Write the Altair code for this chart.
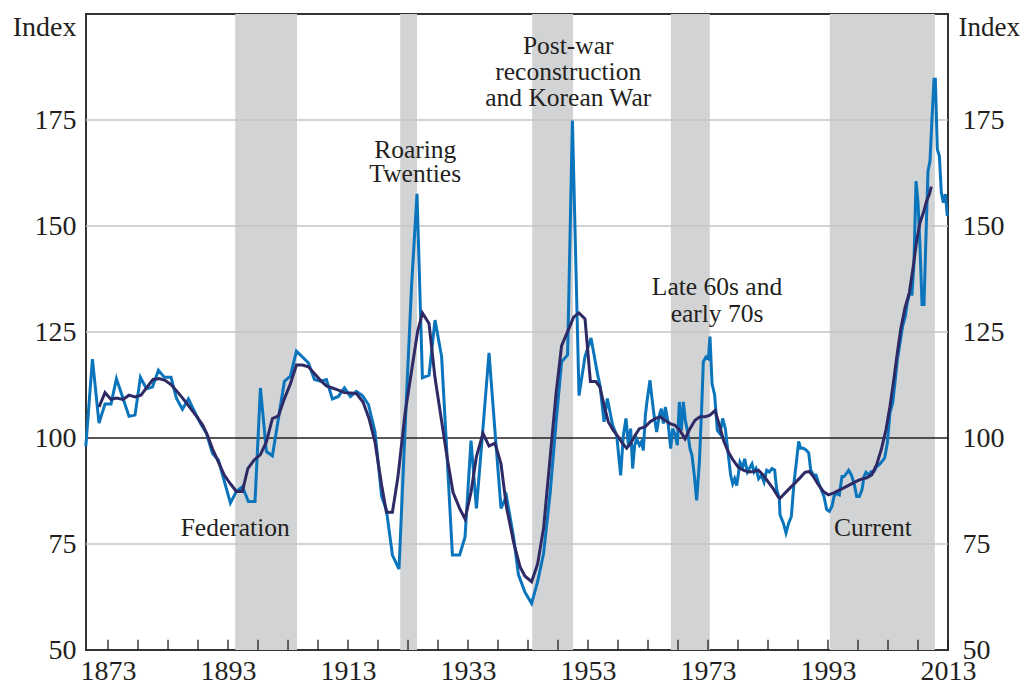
import altair as alt
import pandas as pd

# ---------------- data ----------------
blue_years = [1869.3, 1870.4, 1871.5, 1872.5, 1873.5, 1874.4, 1875.4, 1876.5, 1877.5, 1878.4,
              1879.4, 1880.4, 1881.4, 1882.4, 1883.5, 1884.4, 1885.4, 1886.4, 1887.4, 1888.4,
              1889.4, 1890.4, 1891.4, 1892.4, 1893.4, 1894.4, 1895.4, 1896.4, 1897.5, 1898.4,
              1899.4, 1900.4, 1901.4, 1902.4, 1903.4, 1904.4, 1905.4, 1906.4, 1907.4, 1908.4,
              1909.4, 1910.4, 1911.4, 1912.4, 1913.4, 1914.4, 1915.4, 1916.4, 1917.5, 1918.6,
              1919.4, 1920.4, 1921.5, 1922.7, 1923.6, 1924.5, 1925.4, 1926.5, 1927.5, 1928.6,
              1929.5, 1930.4, 1931.6, 1932.5, 1933.5, 1934.4, 1935.4, 1936.5, 1937.5, 1938.5,
              1939.4, 1940.6, 1941.4, 1942.5, 1943.6, 1944.6, 1945.6, 1946.7, 1947.7, 1948.6,
              1949.6, 1950.4, 1951.5, 1952.5, 1953.5, 1954.6,
              1955.0, 1955.67, 1956.22, 1957.11, 1957.78, 1958.44, 1958.89, 1959.33, 1959.72, 1960.11,
              1960.44, 1960.78, 1961.11, 1961.56, 1961.89, 1962.22, 1962.56, 1962.89, 1963.33, 1963.67,
              1964.0, 1964.44, 1964.89, 1965.22, 1965.56, 1965.89, 1966.33, 1966.78, 1967.11, 1967.56,
              1967.89, 1968.22, 1968.56, 1968.89, 1969.22, 1969.56, 1970.0, 1970.33, 1970.72, 1971.11,
              1971.56, 1971.94, 1972.22, 1972.67, 1973.06, 1973.33, 1973.67, 1974.11, 1974.56, 1975.0,
              1975.44, 1975.89, 1976.33, 1976.78, 1977.11, 1977.44, 1977.78, 1978.11, 1978.33, 1978.78,
              1979.11, 1979.56, 1980.0, 1980.33, 1980.67, 1981.0, 1981.44, 1981.89, 1982.33, 1982.78,
              1983.22, 1983.67, 1984.11, 1984.44, 1984.89,
              1985.0, 1985.56, 1986.0, 1986.44, 1986.89, 1987.33, 1987.78, 1988.11, 1988.44, 1988.89,
              1989.33, 1989.78, 1990.11, 1990.56, 1991.0, 1991.44, 1991.89, 1992.33, 1992.78, 1993.22,
              1993.67, 1994.0, 1994.44, 1994.89, 1995.33, 1995.67, 1996.11, 1996.44, 1996.89, 1997.33,
              1997.78, 1998.22, 1998.67, 1999.0, 1999.33, 1999.78, 2000.22, 2000.67, 2001.11, 2001.56,
              2002.0, 2002.44, 2002.89, 2003.33, 2003.78, 2004.22, 2004.56, 2005.0, 2005.44, 2005.89,
              2006.22, 2006.56, 2007.0, 2007.33, 2007.67, 2008.0, 2008.33, 2008.67, 2009.0, 2009.33,
              2009.67, 2010.0, 2010.33, 2010.67, 2010.89, 2011.22, 2011.56, 2011.89, 2012.22, 2012.56,
              2012.89]
blue_vals = [98.0, 118.6, 103.5, 108.0, 108.0, 114.0, 109.8, 105.1, 105.4, 114.3,
             111.6, 112.0, 116.0, 114.3, 114.3, 109.4, 106.8, 109.2, 106.3, 103.5,
             101.1, 96.4, 94.8, 89.7, 84.7, 87.4, 88.5, 85.0, 85.0, 111.8,
             96.8, 95.8, 104.6, 113.4, 114.6, 120.5, 119.1, 117.7, 113.8, 113.4,
             113.8, 109.2, 109.8, 111.8, 109.8, 111.0, 110.0, 107.9, 101.5, 86.3,
             83.0, 72.4, 69.1, 108.3, 136.1, 157.6, 114.2, 114.8, 127.8, 119.2,
             96.0, 72.4, 72.4, 76.6, 99.4, 83.4, 100.7, 120.1, 101.5, 83.4,
             86.3, 76.6, 67.8, 63.6, 61.0, 66.1, 72.8, 87.2, 104.0, 118.0,
             119.6, 174.9, 110.0, 119.2, 123.6, 115.0,
             112.4, 103.8, 109.3, 103.0, 100.6, 91.2, 100.6, 104.6, 98.3, 102.2,
             92.8, 98.3, 99.8, 98.3, 99.1, 97.1, 105.4, 109.3, 113.6, 109.3,
             105.4, 101.4, 105.4, 106.9, 103.4, 107.3, 103.8, 97.5, 102.2, 100.6,
             98.3, 108.5, 101.8, 108.5, 104.2, 101.8, 97.5, 95.9, 91.2, 85.3,
             94.3, 106.9, 118.0, 119.1, 118.7, 123.9, 112.8, 110.1, 101.8, 101.0,
             104.6, 102.2, 96.7, 91.2, 89.2, 90.4, 88.8, 92.0, 94.3, 93.1,
             95.1, 92.0, 93.1, 93.9, 92.0, 92.8, 90.4, 91.2, 89.6, 92.4,
             92.0, 92.8, 92.4, 88.0, 85.7,
             81.9, 79.9, 77.6, 79.9, 81.5, 89.4, 94.9, 99.2, 97.6, 97.6,
             97.2, 96.5, 92.5, 91.3, 91.3, 89.4, 87.8, 86.2, 83.1, 82.7,
             83.9, 86.2, 87.0, 86.6, 90.9, 90.9, 91.7, 92.4, 91.3, 89.4,
             86.2, 86.2, 87.8, 90.9, 91.9, 91.3, 92.1, 92.1, 93.3, 93.7,
             94.5, 95.3, 98.8, 105.9, 108.3, 113.8, 118.5, 122.4, 126.4, 128.7,
             131.9, 133.9, 133.9, 141.3, 160.6, 155.5, 145.3, 131.5, 131.5, 147.6,
             163.0, 165.4, 175.2, 184.6, 184.6, 168.1, 166.5, 157.9, 155.5, 157.5,
             152.4]

navy_years = [1871.5, 1872.5, 1873.5, 1874.4, 1875.5, 1876.5, 1877.5, 1878.5, 1879.5, 1880.5,
              1881.5, 1882.5, 1883.5, 1884.5, 1885.5, 1886.6, 1887.7, 1888.8, 1889.6, 1890.4,
              1891.4, 1892.4, 1893.4, 1894.4, 1895.4, 1896.3, 1897.3, 1898.4, 1899.4, 1900.4,
              1901.4, 1902.4, 1903.4, 1904.4, 1905.4, 1906.4, 1907.4, 1908.4, 1909.4, 1910.4,
              1911.4, 1912.4, 1913.4, 1914.4, 1915.5, 1916.5, 1917.5, 1918.6, 1919.4, 1920.4,
              1921.3, 1922.5, 1923.6, 1924.6, 1925.4, 1926.5, 1927.5, 1928.6, 1929.5, 1930.5,
              1931.6, 1932.5, 1933.5, 1934.4, 1935.5, 1936.5, 1937.5, 1938.5, 1939.4, 1940.6,
              1941.7, 1942.5, 1943.6, 1944.6, 1945.6, 1946.7, 1947.7, 1948.6, 1949.6, 1950.6,
              1951.5, 1952.5, 1953.4, 1954.3,
              1955.0, 1955.67, 1956.39, 1957.22, 1958.06, 1958.78, 1959.44, 1960.11, 1960.83, 1961.56,
              1962.5, 1963.33, 1964.17, 1965.0, 1965.83, 1966.67, 1967.5, 1968.33, 1969.17, 1970.0,
              1970.83, 1971.67, 1972.5, 1973.33, 1974.17, 1974.89, 1975.67, 1976.39, 1977.22, 1978.06,
              1978.89, 1979.72, 1980.56, 1981.39, 1982.22, 1983.06, 1983.89, 1984.72,
              1985.0, 1986.11, 1987.22, 1988.33, 1989.17, 1989.89, 1990.56, 1991.39, 1992.22, 1993.06,
              1993.89, 1995.0, 1996.11, 1997.22, 1998.33, 1999.44, 2000.28, 2001.11, 2001.94, 2002.67,
              2003.33, 2003.89, 2004.44, 2005.11, 2005.83, 2006.56, 2007.22, 2007.78, 2008.33, 2008.89,
              2009.44, 2009.89, 2010.22]
navy_vals = [107.3, 110.7, 109.1, 109.4, 109.1, 110.1, 109.7, 110.1, 112.0, 113.8,
             114.0, 113.6, 112.6, 111.0, 109.3, 107.3, 105.2, 103.0, 100.6, 97.5,
             94.3, 91.2, 89.2, 87.4, 87.4, 92.8, 94.7, 96.1, 99.1, 104.6,
             105.2, 109.3, 112.8, 117.2, 117.2, 116.8, 115.2, 113.6, 112.3, 111.8,
             111.3, 110.7, 110.6, 110.5, 108.5, 104.6, 99.0, 88.9, 82.5, 82.5,
             90.6, 105.7, 115.9, 125.1, 129.5, 127.0, 114.2, 104.0, 95.6, 87.2,
             83.4, 80.9, 87.2, 95.6, 101.1, 98.1, 98.8, 93.9, 83.8, 75.4,
             69.5, 67.4, 66.1, 70.3, 78.8, 95.6, 110.8, 121.8, 125.1, 128.5,
             129.5, 128.1, 113.3, 113.3,
             112.0, 107.7, 103.8, 101.8, 100.2, 98.7, 97.6, 98.7, 100.6, 102.2,
             102.6, 103.8, 104.6, 105.0, 104.2, 103.4, 103.0, 101.8, 99.8, 102.2,
             104.2, 105.0, 105.0, 105.4, 106.5, 103.0, 99.1, 96.7, 94.7, 93.1,
             92.4, 92.0, 92.1, 92.4, 91.2, 89.6, 88.0, 86.1,
             85.8, 87.4, 89.0, 90.6, 91.9, 92.1, 90.9, 89.0, 87.4, 86.6,
             87.0, 87.8, 88.6, 89.4, 90.2, 90.6, 91.3, 93.7, 97.6, 102.0,
             107.5, 113.0, 118.9, 125.6, 130.7, 134.3, 140.6, 146.5, 150.8, 153.1,
             155.9, 157.5, 159.3]

band_start = [1894.2, 1921.7, 1943.7, 1966.8, 1993.3]
band_end = [1904.5, 1924.5, 1950.5, 1973.3, 2010.8]

grid_vals = [75, 125, 150, 175]
ref_val = [100]
y_labels = [50, 75, 100, 125, 150, 175]
x_labels = [1873, 1893, 1913, 1933, 1953, 1973, 1993, 2013]
tick_years = list(range(1873, 2014, 5))

ann_text = ["Federation", "Roaring", "Twenties", "Post-war", "reconstruction",
            "and Korean War", "Late 60s and", "early 70s", "Current"]
ann_x = [1894.2, 1924.2, 1924.2, 1949.7, 1949.7, 1949.7, 1974.5, 1974.5, 2000.5]
ann_y = [78.8, 167.9, 162.3, 192.5, 186.3, 180.2, 135.6, 129.2, 78.8]

# ---------------- chart ----------------
FONT = "Liberation Serif"
TXT = "#231f20"
W, H = 862, 636

xs = alt.Scale(domain=[1869.33, 2013], nice=False, zero=False)
ys = alt.Scale(domain=[50, 200], nice=False, zero=False)

bands_df = pd.DataFrame({"s": band_start, "e": band_end})
grid_df = pd.DataFrame({"v": grid_vals})
ref_df = pd.DataFrame({"v": ref_val})
blue_df = pd.DataFrame({"year": blue_years, "val": blue_vals})
navy_df = pd.DataFrame({"year": navy_years, "val": navy_vals})
tick_df = pd.DataFrame({"yr": tick_years, "y0": [50] * len(tick_years),
                        "y1": [52.4] * len(tick_years)})
ann_df = pd.DataFrame({"t": ann_text, "x": ann_x, "y": ann_y})

x_axis = alt.Axis(values=x_labels, format="d", labelFontSize=28, labelFont=FONT,
                  labelColor=TXT, ticks=False, tickSize=0, domain=False, grid=False,
                  title=None, labelPadding=29, labelBaseline="alphabetic",
                  labelFlush=False)


def y_axis(orient, pad, tx, align, tsize):
    return alt.Axis(orient=orient, values=y_labels, labelFontSize=28, labelFont=FONT,
                    labelColor=TXT, ticks=False, tickSize=0, domain=False, grid=False,
                    labelPadding=pad, title="Index", titleAngle=0, titleFont=FONT,
                    titleFontSize=tsize, titleFontWeight="normal", titleColor=TXT,
                    titleAlign=align, titleBaseline="middle", titleX=tx, titleY=13)


X = lambda f: alt.X(f, scale=xs, axis=x_axis)

bands = alt.Chart(bands_df).mark_rect(color="#d1d3d4").encode(
    x=X("s:Q"), x2="e:Q", y=alt.value(0), y2=alt.value(H))

grid = alt.Chart(grid_df).mark_rule(color="#c4c4c4", strokeWidth=1.5).encode(
    y=alt.Y("v:Q", scale=ys, axis=y_axis("left", 10, -10, "right", 28)))

ref = alt.Chart(ref_df).mark_rule(color=TXT, strokeWidth=1.5).encode(
    y=alt.Y("v:Q", scale=ys, axis=y_axis("right", 14, 10, "left", 27)))

blue = alt.Chart(blue_df).mark_line(color="#0a75bc", strokeWidth=3).encode(
    x=X("year:Q"), y=alt.Y("val:Q", scale=ys, axis=None))

navy = alt.Chart(navy_df).mark_line(color="#2d2a66", strokeWidth=3).encode(
    x=X("year:Q"), y=alt.Y("val:Q", scale=ys, axis=None))

ticks = alt.Chart(tick_df).mark_rule(color=TXT, strokeWidth=1.3).encode(
    x=X("yr:Q"), y=alt.Y("y0:Q", scale=ys, axis=None), y2="y1:Q")

ann = alt.Chart(ann_df).mark_text(font=FONT, fontSize=25.5, color=TXT).encode(
    x=X("x:Q"), y=alt.Y("y:Q", scale=ys, axis=None), text="t:N")

chart = alt.layer(bands, grid, ref, blue, navy, ticks, ann).resolve_axis(
    y="independent").properties(
    width=W, height=H,
    autosize=alt.AutoSizeParams(type="none"),
    padding={"left": 78, "top": 6, "right": 73, "bottom": 35},
).configure_view(stroke="#333333", strokeWidth=2)

chart.save("out.html", embed_options={"renderer": "svg", "actions": False})
